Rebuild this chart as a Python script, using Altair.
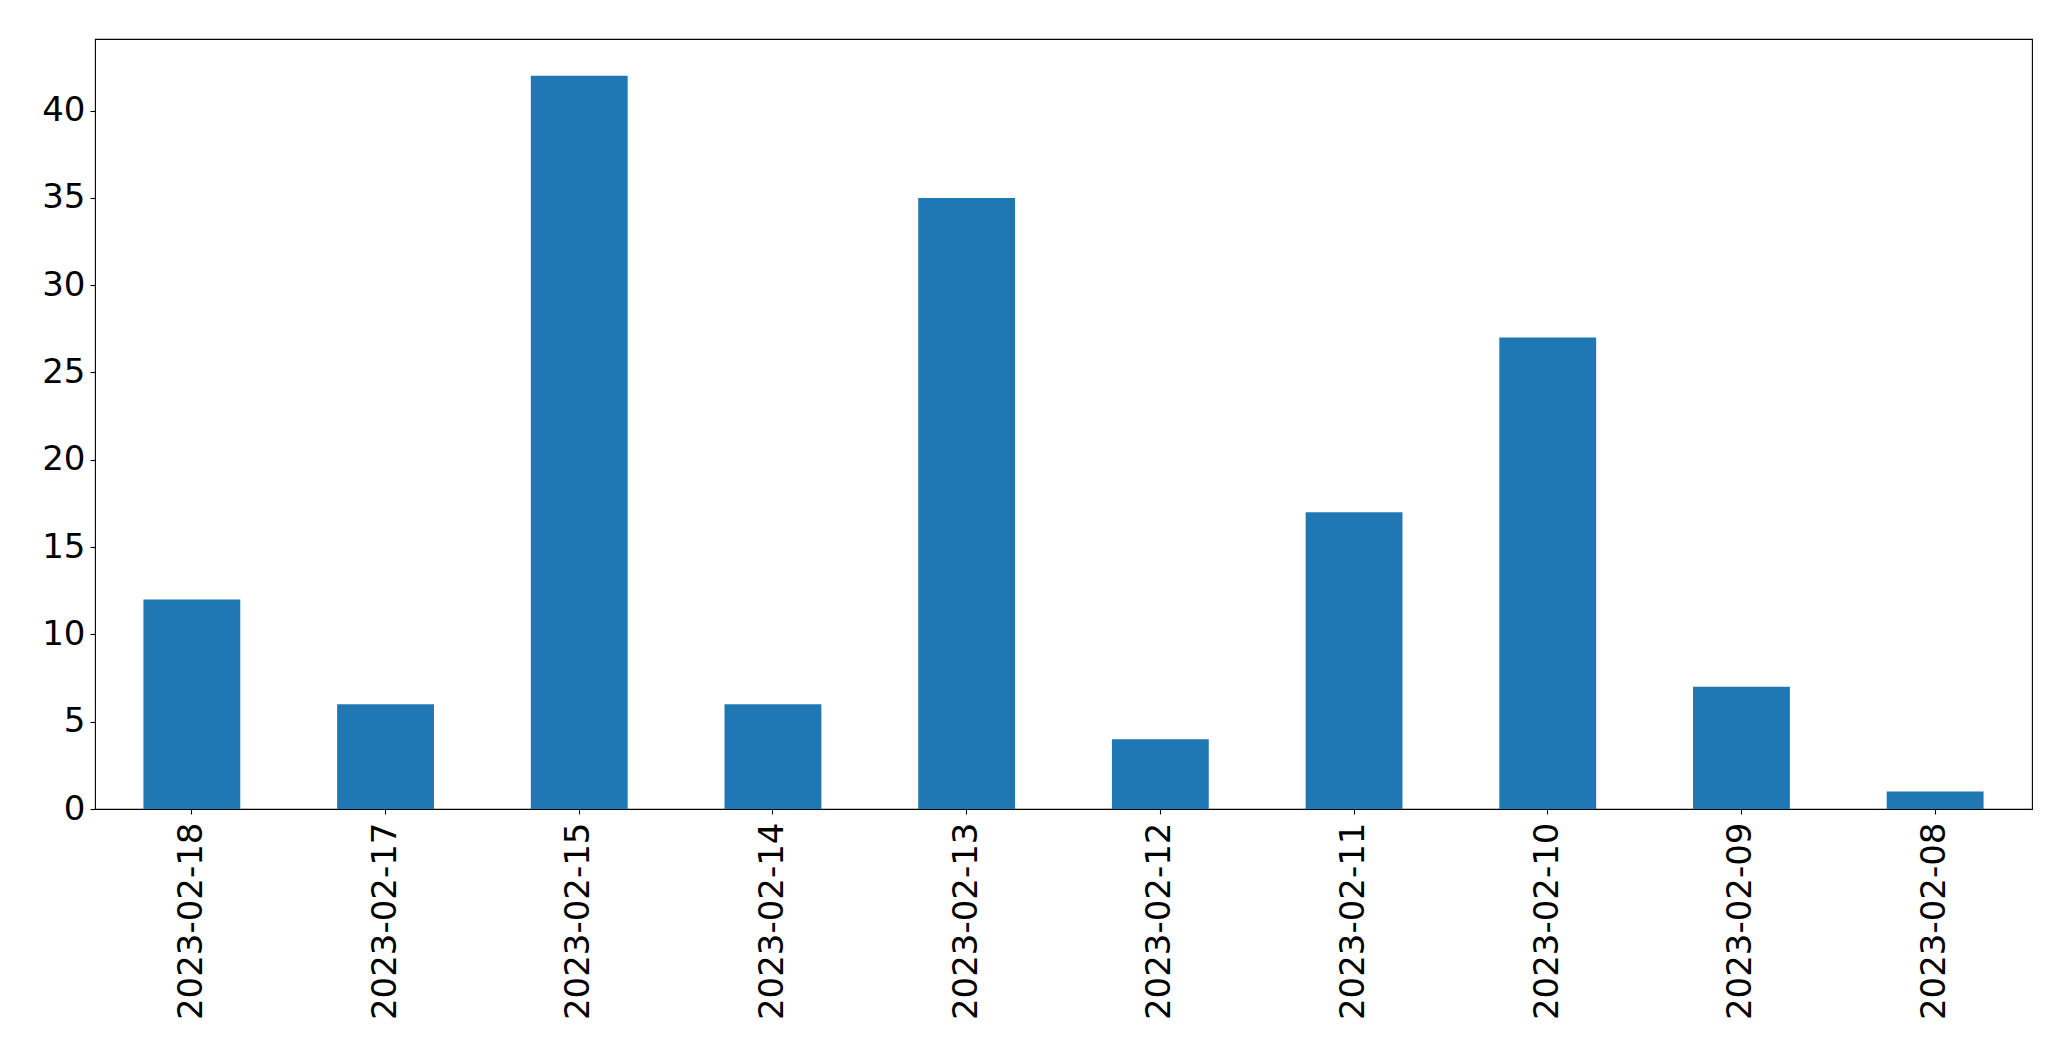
import altair as alt
import pandas as pd

dates = ["2023-02-18", "2023-02-17", "2023-02-15", "2023-02-14", "2023-02-13",
         "2023-02-12", "2023-02-11", "2023-02-10", "2023-02-09", "2023-02-08"]
counts = [12, 6, 42, 6, 35, 4, 17, 27, 7, 1]
y_ticks = [0, 5, 10, 15, 20, 25, 30, 35, 40]

df = pd.DataFrame({"date": dates, "count": counts})

font = "DejaVu Sans"

chart = alt.Chart(df).mark_bar(color="#1f77b4").encode(
    x=alt.X("date:N", sort=dates, title=None,
            scale=alt.Scale(paddingInner=0.5, paddingOuter=0.25),
            axis=alt.Axis(labelAngle=-90, labelAlign="right", labelBaseline="middle",
                          labelFontSize=34, labelFont=font, labelColor="black",
                          labelLimit=0,
                          tickSize=5, tickWidth=1.1, tickColor="black",
                          labelPadding=8, domain=False, grid=False)),
    y=alt.Y("count:Q", title=None,
            scale=alt.Scale(domain=[0, 44.1], nice=False, zero=True),
            axis=alt.Axis(values=y_ticks, labelFontSize=34, labelFont=font,
                          labelColor="black", tickSize=5, tickWidth=1.1,
                          tickColor="black", labelPadding=5, domain=False,
                          grid=False)),
).properties(
    width=1937, height=770,
    autosize=alt.AutoSizeParams(type="none"),
    padding={"left": 87, "top": 31, "right": 30, "bottom": 235},
    background="white",
).configure_view(
    stroke="black", strokeWidth=1.1
)

chart.save("out.html", embed_options={"renderer": "svg", "actions": False})
